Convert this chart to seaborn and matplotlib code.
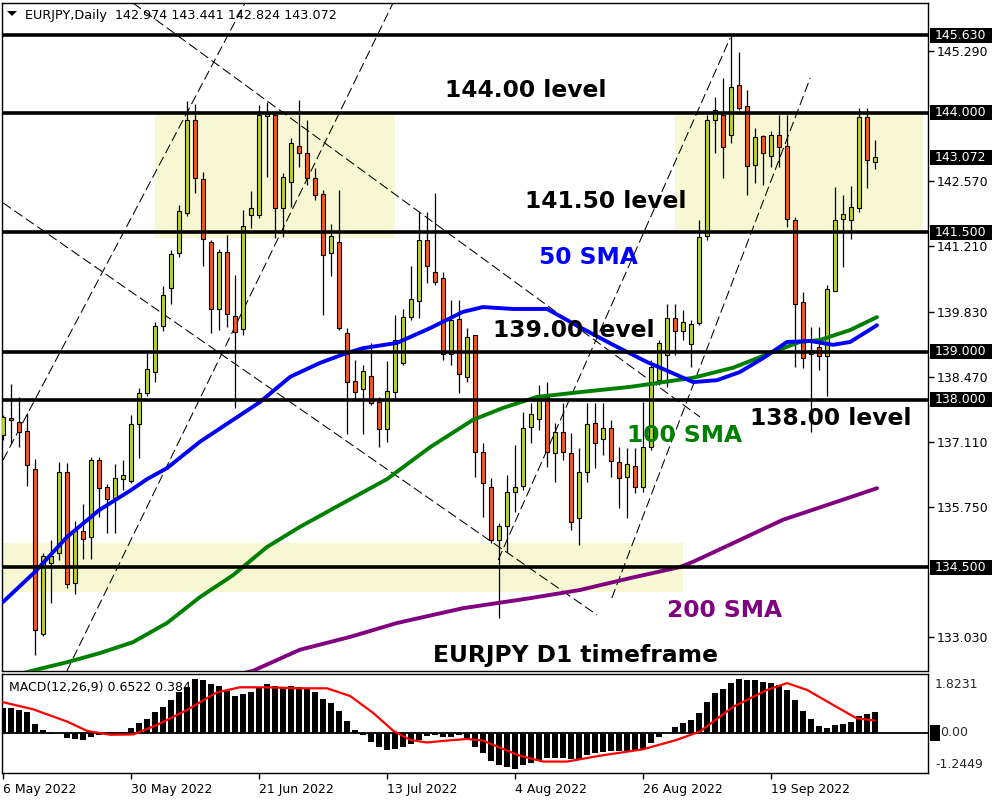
import numpy as np
import matplotlib
matplotlib.use("Agg")
import matplotlib.pyplot as plt
import matplotlib.patches as mpatches
import matplotlib.transforms as mtransforms
import seaborn as sns

# --- DATA (EURJPY daily, 6 May - 6 Oct 2022) ---
opens = [137.26, 137.62, 137.54, 137.35, 136.55, 133.10, 134.59, 134.80, 136.49, 134.17,
         135.26, 135.13, 136.74, 136.18, 135.95, 136.34, 136.30, 137.49, 138.14, 138.58,
         139.54, 140.34, 141.07, 141.91, 143.85, 142.62, 141.30, 139.90, 141.09, 139.75,
         139.48, 141.87, 141.87, 143.94, 143.96, 142.01, 142.56, 143.31, 143.16, 142.64,
         142.31, 141.07, 141.30, 139.40, 138.39, 138.23, 138.50, 137.95, 137.39, 138.16,
         138.77, 139.73, 140.07, 141.34, 140.67, 140.55, 138.96, 139.69, 138.48, 139.36,
         136.91, 136.18, 135.07, 135.36, 136.07, 136.20, 137.43, 137.60, 138.06, 136.89,
         137.33, 136.89, 135.53, 136.49, 137.52, 137.18, 137.41, 136.70, 136.39, 136.62,
         136.18, 137.01, 138.41, 138.94, 139.71, 139.44, 139.17, 139.61, 141.43, 143.85,
         143.96, 143.54, 144.59, 144.15, 142.91, 143.52, 143.10, 143.54, 143.31, 141.76,
         140.05, 138.96, 139.10, 138.92, 140.28, 141.78, 141.76, 142.01, 143.92, 142.974]
highs = [137.68, 138.33, 138.06, 137.72, 136.76, 134.80, 135.07, 136.70, 136.68, 135.46,
         135.82, 136.80, 136.80, 136.24, 136.66, 136.74, 137.68, 138.25, 138.98, 139.63,
         140.38, 141.13, 142.08, 144.25, 144.19, 142.77, 141.34, 141.16, 141.45, 140.61,
         141.97, 142.37, 144.17, 144.23, 144.00, 142.75, 143.48, 144.27, 143.85, 142.85,
         142.39, 141.68, 142.39, 139.50, 138.83, 138.73, 139.19, 138.06, 138.81, 139.77,
         139.90, 140.80, 141.93, 141.93, 142.33, 140.67, 140.09, 140.09, 139.50, 139.36,
         137.10, 136.36, 135.42, 136.43, 137.05, 137.75, 137.93, 138.31, 138.37, 137.52,
         137.93, 137.31, 136.99, 137.93, 137.93, 137.93, 137.58, 137.01, 136.99, 136.99,
         137.95, 138.83, 139.25, 140.00, 140.00, 139.88, 139.67, 141.76, 143.96, 144.34,
         144.73, 145.63, 145.28, 144.48, 143.69, 143.54, 143.62, 143.96, 143.96, 141.82,
         140.26, 139.52, 139.52, 140.40, 142.45, 142.29, 142.47, 144.10, 144.10, 143.441]
lows = [137.16, 137.10, 137.01, 136.20, 132.66, 133.06, 133.75, 134.65, 134.06, 133.94,
        134.67, 134.67, 135.55, 135.21, 135.21, 136.11, 136.26, 136.78, 138.08, 138.37,
        139.44, 140.00, 140.99, 141.85, 142.33, 140.80, 139.40, 139.46, 139.52, 137.83,
        139.36, 141.59, 141.80, 142.66, 141.39, 141.41, 142.03, 142.87, 142.49, 142.18,
        139.77, 140.59, 139.46, 137.28, 138.00, 137.28, 137.89, 137.01, 137.12, 138.04,
        138.73, 139.67, 139.71, 140.44, 140.40, 138.83, 138.73, 138.14, 138.37, 136.39,
        135.55, 135.00, 133.44, 134.82, 135.65, 136.11, 137.10, 137.37, 136.59, 136.28,
        136.74, 135.28, 134.96, 136.28, 136.57, 136.85, 136.39, 135.74, 135.53, 136.05,
        136.07, 136.95, 138.31, 138.27, 138.94, 139.25, 138.69, 139.57, 141.34, 143.16,
        142.64, 143.37, 144.06, 142.29, 142.54, 142.49, 142.87, 142.87, 141.62, 138.69,
        138.67, 137.33, 138.62, 138.08, 140.28, 140.78, 141.36, 141.93, 142.43, 142.824]
closes = [137.64, 137.58, 137.33, 136.64, 133.18, 134.73, 134.73, 136.49, 134.15, 135.28,
          135.09, 136.74, 136.16, 135.93, 136.36, 136.43, 137.49, 138.14, 138.64, 139.54,
          140.19, 141.05, 141.95, 143.85, 142.64, 141.36, 139.90, 141.09, 139.80, 139.42,
          141.64, 142.01, 143.96, 143.98, 142.01, 142.66, 143.37, 143.16, 142.64, 142.29,
          141.03, 141.43, 139.50, 138.37, 138.16, 138.60, 137.93, 137.39, 138.18, 139.25,
          139.73, 140.11, 141.34, 140.80, 140.46, 138.96, 139.67, 138.54, 139.31, 136.91,
          136.26, 135.07, 135.36, 136.07, 136.18, 137.41, 137.70, 138.08, 136.91, 137.33,
          136.91, 135.44, 136.49, 137.49, 137.10, 137.41, 136.72, 136.36, 136.66, 136.18,
          137.01, 138.69, 139.19, 139.71, 139.44, 139.63, 139.59, 141.41, 143.85, 144.06,
          143.29, 144.54, 144.10, 142.89, 143.50, 143.16, 143.54, 143.29, 141.78, 140.00,
          138.87, 139.04, 138.92, 140.32, 141.76, 141.89, 142.03, 143.92, 143.02, 143.072]

# moving averages, sampled along the drawn lines (bar index, price)
sma50_x = [0, 4, 8, 12, 16, 18, 20.5, 24.6, 28.75, 32.1, 35.9, 39.6, 43, 45, 49.25, 53.4,
           57.5, 60, 63.75, 68, 72.1, 76.25, 80.5, 83.4, 86.25, 89.25, 92.1, 95, 98, 100.9,
           103.75, 105.9, 109.25]
sma50_y = [133.77, 134.40, 135.13, 135.69, 136.11, 136.34, 136.57, 137.12, 137.58, 137.95,
           138.48, 138.77, 138.98, 139.08, 139.19, 139.50, 139.84, 139.94, 139.90, 139.90,
           139.52, 139.15, 138.79, 138.58, 138.37, 138.41, 138.58, 138.87, 139.21, 139.23,
           139.15, 139.21, 139.56]
sma100_x = [0, 3.6, 8, 12.1, 16.25, 20.5, 24.6, 28.75, 33, 37.1, 43.4, 48, 53.4, 58.75,
            62.5, 66.75, 72.1, 78.4, 80.9, 86.25, 91.25, 96.25, 99.6, 102.1, 105.9, 109.25]
sma100_y = [132.17, 132.33, 132.51, 132.70, 132.93, 133.33, 133.87, 134.33, 134.92, 135.34,
            135.92, 136.34, 137.01, 137.58, 137.83, 138.06, 138.16, 138.27, 138.33, 138.46,
            138.67, 139.00, 139.21, 139.25, 139.46, 139.73]
sma200_x = [28, 31.25, 37.1, 43.4, 49.25, 57.5, 65.9, 72.1, 78.4, 84.6, 86.25, 91.25,
            97.5, 103.75, 109.25]
sma200_y = [132.20, 132.33, 132.77, 133.04, 133.33, 133.64, 133.85, 134.02, 134.27, 134.50,
            134.61, 135.00, 135.49, 135.84, 136.15]

# MACD(12,26,9) histogram and signal
macd_hist = [0.76, 0.76, 0.71, 0.63, 0.28, 0.09, -0.03, -0.01, -0.15, -0.19,
             -0.22, -0.12, -0.07, -0.04, -0.02, 0.02, 0.16, 0.32, 0.43, 0.63,
             0.81, 1.02, 1.25, 1.43, 1.67, 1.64, 1.51, 1.45, 1.31, 1.15,
             1.19, 1.25, 1.43, 1.50, 1.45, 1.43, 1.45, 1.43, 1.38, 1.27,
             1.05, 0.92, 0.68, 0.37, 0.09, -0.08, -0.27, -0.45, -0.53, -0.50,
             -0.43, -0.36, -0.22, -0.11, -0.08, -0.13, -0.13, -0.08, -0.21, -0.43,
             -0.63, -0.86, -1.01, -1.07, -1.12, -1.01, -0.92, -0.86, -0.79, -0.77,
             -0.79, -0.82, -0.82, -0.68, -0.63, -0.58, -0.56, -0.56, -0.56, -0.53,
             -0.50, -0.30, -0.14, -0.02, 0.19, 0.32, 0.40, 0.61, 0.96, 1.23,
             1.36, 1.55, 1.67, 1.64, 1.64, 1.57, 1.54, 1.49, 1.33, 1.02,
             0.68, 0.43, 0.21, 0.14, 0.24, 0.27, 0.35, 0.52, 0.58, 0.65]
signal_x = [0, 3.75, 8, 10.5, 13.4, 16.3, 19.2, 23, 26.7, 29.6, 33, 37, 40.5, 43.4, 46.3,
            48.8, 50.9, 53, 55, 58, 60, 62, 64.6, 67.5, 70.5, 74.6, 80, 84.2, 87.1, 91.3,
            95.5, 98, 100.5, 103.8, 106.7, 109]
signal_y = [0.95, 0.73, 0.35, 0.06, -0.06, -0.05, 0.24, 0.71, 1.25, 1.41, 1.41, 1.38, 1.38,
            1.14, 0.61, 0.06, -0.22, -0.30, -0.25, -0.19, -0.24, -0.45, -0.71, -0.89, -0.89,
            -0.71, -0.51, -0.22, 0.04, 0.81, 1.33, 1.54, 1.33, 0.86, 0.45, 0.38]

date_ticks = [0, 16, 32, 48, 64, 80, 96]
date_labels = ["6 May 2022", "30 May 2022", "21 Jun 2022", "13 Jul 2022",
               "4 Aug 2022", "26 Aug 2022", "19 Sep 2022"]
level_prices = [145.630, 144.000, 141.500, 139.000, 138.000, 134.500]
price_ticks = [145.290, 142.570, 141.210, 139.830, 138.470, 137.110, 135.750, 133.030]
last_price = 143.072

# --- STYLE ---
GREEN = "#BDD22E"
RED = "#F05A1E"
ZONE = "#F7F7D3"

sns.set_theme(style="white")
plt.rcParams["font.family"] = ["DejaVu Sans"]
plt.rcParams["lines.scale_dashes"] = False

fig = plt.figure(figsize=(10, 8), dpi=100)
fig.patch.set_facecolor("white")
ax = fig.add_axes([0.002, 1 - 671 / 800, 0.926, 668 / 800])
ax2 = fig.add_axes([0.002, 1 - 773 / 800, 0.926, 99 / 800])

for a in (ax, ax2):
    a.set_facecolor("white")
    a.set_xlim(-0.125, 115.625)
    for s in a.spines.values():
        s.set_color("black")
        s.set_linewidth(1)

ax.set_ylim(132.326, 146.301)
ax2.set_ylim(-1.2449, 1.8231)

# --- zones ---
ax.add_patch(mpatches.Rectangle((19, 141.385), 30, 144.0 - 141.385, color=ZONE, lw=0, zorder=0))
ax.add_patch(mpatches.Rectangle((84, 141.5), 31, 2.5, color=ZONE, lw=0, zorder=0))
ax.add_patch(mpatches.Rectangle((-0.2, 133.98), 85.2, 135.0 - 133.98, color=ZONE, lw=0, zorder=0))

# --- channel lines (dashed) ---
channel_lines = [((16.25, 146.30), (87.125, 137.64)),
                 ((0.0, 142.12), (74.25, 133.50)),
                 ((0.0, 136.74), (30.25, 146.30)),
                 ((8.0, 132.33), (48.75, 146.30)),
                 ((61.9, 134.65), (90.9, 145.57)),
                 ((76.1, 133.85), (100.9, 144.73))]
for (x0, y0), (x1, y1) in channel_lines:
    ax.plot([x0, x1], [y0, y1], color="black", lw=0.75, dashes=(7, 3), zorder=1)

# --- candles ---
idx = np.arange(len(closes))
o, h, l, c = map(np.array, (opens, highs, lows, closes))
up = c >= o
ax.vlines(idx, l, h, color="black", lw=0.9, zorder=2)
body_lo = np.minimum(o, c)
body_h = np.maximum(np.abs(c - o), 0.04)
ax.bar(idx[up], body_h[up], bottom=body_lo[up], width=0.62, color=GREEN,
       edgecolor="black", linewidth=0.8, zorder=3)
ax.bar(idx[~up], body_h[~up], bottom=body_lo[~up], width=0.62, color=RED,
       edgecolor="black", linewidth=0.8, zorder=3)

# --- moving averages ---
sns.lineplot(x=sma200_x, y=sma200_y, ax=ax, color="#800080", lw=2.8, sort=False, estimator=None, zorder=4)
sns.lineplot(x=sma100_x, y=sma100_y, ax=ax, color="#008000", lw=2.8, sort=False, estimator=None, zorder=4)
sns.lineplot(x=sma50_x, y=sma50_y, ax=ax, color="#0000FF", lw=2.8, sort=False, estimator=None, zorder=4)

# --- horizontal levels ---
for p in level_prices:
    ax.axhline(p, color="black", lw=2.6, zorder=5)

# --- right price scale ---
ax.yaxis.tick_right()
ax.set_yticks(price_ticks)
ax.set_yticklabels([f"{p:.3f}" for p in price_ticks])
ax.tick_params(axis="y", left=False, right=True, labelleft=False, labelright=True,
               length=4, width=1, pad=2.5, labelsize=9, colors="black")
ax.tick_params(axis="x", bottom=False, labelbottom=False)
ax.set_xlabel("")
ax.set_ylabel("")

trans = mtransforms.blended_transform_factory(ax.transAxes, ax.transData)
box_h = 15 / 47.8
for p in level_prices + [last_price]:
    ax.add_patch(mpatches.Rectangle((1.0022, p - box_h / 2), 0.067, box_h, transform=trans,
                                    facecolor="black", edgecolor="none", clip_on=False, zorder=6))
    ax.text(1.0076, p, f"{p:.3f}", transform=trans, color="white", fontsize=9,
            va="center", ha="left", clip_on=False, zorder=7)

# --- annotations ---
TXT = dict(fontsize=16.8, fontweight="bold", va="baseline", ha="left")
fig.text(445 / 1000, 1 - 97 / 800, "144.00 level", color="black", **TXT)
fig.text(525 / 1000, 1 - 208 / 800, "141.50 level", color="black", **TXT)
fig.text(493 / 1000, 1 - 337 / 800, "139.00 level", color="black", **TXT)
fig.text(750 / 1000, 1 - 425 / 800, "138.00 level", color="black", **TXT)
fig.text(539 / 1000, 1 - 264 / 800, "50 SMA", color="#0000FF", **TXT)
fig.text(627 / 1000, 1 - 442 / 800, "100 SMA", color="#008000", **TXT)
fig.text(667 / 1000, 1 - 617 / 800, "200 SMA", color="#800080", **TXT)
fig.text(433 / 1000, 1 - 662 / 800, "EURJPY D1 timeframe", color="black", **TXT)

# header
tri = mpatches.Polygon([(7 / 1000, 1 - 11 / 800), (17 / 1000, 1 - 11 / 800), (12 / 1000, 1 - 16 / 800)],
                       closed=True, transform=fig.transFigure, facecolor="black", edgecolor="none")
fig.add_artist(tri)
fig.text(25 / 1000, 1 - 19 / 800, "EURJPY,Daily  142.974 143.441 142.824 143.072",
         fontsize=9.2, color="black", va="baseline", ha="left")

# --- MACD panel ---
ax2.text(7 / 926, (773 - 691) / 99, "MACD(12,26,9) 0.6522 0.3841", transform=ax2.transAxes,
         fontsize=9, va="baseline", ha="left", color="black", zorder=1)
ax2.bar(idx, macd_hist, width=0.75, color="black", linewidth=0, zorder=2)
ax2.axhline(0, color="black", lw=1.3, zorder=2)
sns.lineplot(x=signal_x, y=signal_y, ax=ax2, color="#FF0000", lw=1.6, sort=False, estimator=None, zorder=3)
ax2.set_yticks([])
ax2.set_xlabel("")
ax2.set_ylabel("")
ax2.set_xticks(date_ticks)
ax2.set_xticklabels(date_labels, ha="left")
ax2.tick_params(axis="x", bottom=True, length=4, width=1, pad=3, labelsize=9, colors="black")

ax2.text(1.0076, (773 - 685) / 99, "1.8231", transform=ax2.transAxes, fontsize=9,
         va="center", ha="left", clip_on=False)
ax2.text(1.0076, (773 - 764) / 99, "-1.2449", transform=ax2.transAxes, fontsize=9,
         va="center", ha="left", clip_on=False)
t2 = mtransforms.blended_transform_factory(ax2.transAxes, ax2.transData)
ax2.add_patch(mpatches.Rectangle((1.0022, -0.25), 0.0105, 0.5, transform=t2, facecolor="black",
                                 edgecolor="none", clip_on=False))
ax2.text(1.0135, 0, "0.00", transform=t2, fontsize=9, va="center", ha="left", clip_on=False)

fig.savefig("out.png", dpi=100, facecolor="white")
